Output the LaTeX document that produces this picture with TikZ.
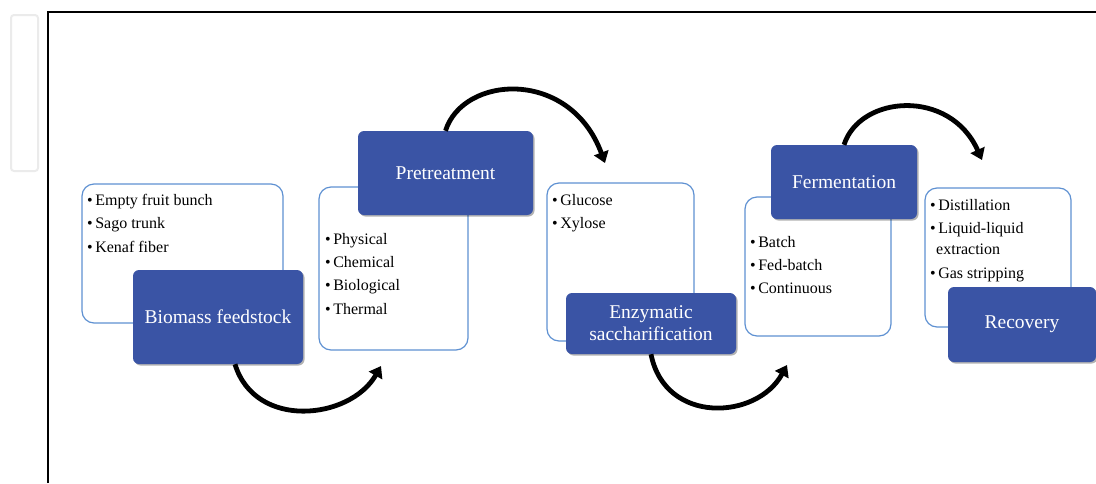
\documentclass[tikz,border=0pt]{standalone}
\usepackage{fontspec}
\setmainfont{Liberation Serif}
\usetikzlibrary{arrows.meta,shadows}
\definecolor{boxblue}{RGB}{58,84,165}
\definecolor{lineblue}{RGB}{95,145,210}
\newcommand{\itembul}{\textbullet\kern2.5pt}
\begin{document}
\begin{tikzpicture}[x=1pt,y=-1pt,
  listbox/.style={draw=lineblue, line width=1.2pt, fill=white, rounded corners=12pt, inner sep=0pt},
  stagebox/.style={fill=boxblue, rounded corners=6pt, text=white, align=center,
    font=\fontsize{19.5}{22}\selectfont, inner sep=0pt,
    drop shadow={shadow xshift=1.5pt, shadow yshift=-1.5pt, opacity=0.3, fill=black}},
  listtext/.style={anchor=north west, align=left, inner sep=0pt, font=\fontsize{16}{23.3}\selectfont},
  flow/.style={line width=4.8pt, -{Triangle[length=11pt,width=15pt]}}]
\useasboundingbox (0,0) rectangle (1096,483);
% frame
\draw[black!8, line width=2pt, rounded corners=3pt] (11,15) rectangle (38,171);
\draw[line width=1.6pt] (48,483) -- (48,12) -- (1096,12);
% list boxes
\node[listbox, minimum width=201pt, minimum height=139pt] (feedlist) at (182.5,253.5) {};
\node[listbox, minimum width=149pt, minimum height=163pt] (pretlist) at (393.5,268.5) {};
\node[listbox, minimum width=147pt, minimum height=158pt] (sugarlist) at (620.5,262) {};
\node[listbox, minimum width=146pt, minimum height=139pt] (fermlist) at (818,266.5) {};
\node[listbox, minimum width=146pt, minimum height=139pt] (reclist) at (998,257.5) {};
% list texts
\node[listtext] (feedtxt) at (87,194) {\itembul Empty fruit bunch\\\itembul Sago trunk\\\itembul Kenaf fiber};
\node[listtext] (prettxt) at (325,233) {\itembul Physical\\\itembul Chemical\\\itembul Biological\\\itembul Thermal};
\node[listtext] (sugartxt) at (552,194) {\itembul Glucose\\\itembul Xylose};
\node[listtext] (fermtxt) at (750,236) {\itembul Batch\\\itembul Fed-batch\\\itembul Continuous};
\node[listtext] (rectxt) at (930,199) {\itembul Distillation\\\itembul Liquid-liquid\\[-2pt]\hspace*{6pt}extraction\\\itembul Gas stripping};
% stage boxes
\node[stagebox, minimum width=170pt, minimum height=94pt] (feed) at (218,317) {Biomass feedstock};
\node[stagebox, minimum width=175pt, minimum height=84pt] (pret) at (445.5,173) {Pretreatment};
\node[stagebox, minimum width=170pt, minimum height=61pt] (enz) at (651,323.5) {Enzymatic\\saccharification};
\node[stagebox, minimum width=146pt, minimum height=74pt] (ferm) at (844,182) {Fermentation};
\node[stagebox, minimum width=148pt, minimum height=75pt] (rec) at (1022,324.5) {Recovery};
% arrow tips
\coordinate (t1) at (381,366);
\coordinate (t2) at (605,163);
\coordinate (t3) at (787,365);
\coordinate (t4) at (982,160);
% arrows
\draw[flow] ([xshift=17pt]feed.south) .. controls (255,430) and (350,420) .. (t1);
\draw[flow] (pret.north) .. controls (463,75) and (570,68) .. (t2);
\draw[flow] (enz.south) .. controls (665,425) and (757,420) .. (t3);
\draw[flow] (ferm.north) .. controls (860,95) and (950,88) .. (t4);
\end{tikzpicture}
\end{document}
